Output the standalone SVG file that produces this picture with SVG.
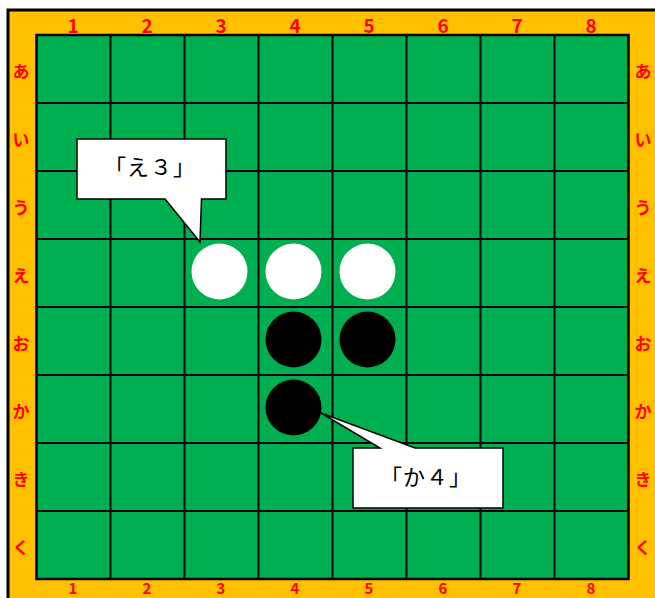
<svg xmlns="http://www.w3.org/2000/svg" width="655" height="598" viewBox="0 0 655 598">
<style>
.lbl{font-family:"Noto Sans CJK JP","DejaVu Sans",sans-serif;font-weight:bold;fill:#FF0000;text-anchor:middle;dominant-baseline:central}
.num{font-size:19px}
.bnum{font-size:15px}
.kana{font-size:17px}
.grid line{stroke:#000;stroke-width:2}
.call{fill:#fff;stroke:#000;stroke-width:1.5}
.ct{font-family:"Noto Sans CJK JP",serif;font-size:22px;fill:#000;text-anchor:middle;dominant-baseline:central}
</style>
<rect x="0" y="0" width="655" height="598" fill="#fff"/>
<g id="frame">
<rect x="8" y="10" width="660" height="600" fill="#FFC000" stroke="#000" stroke-width="3"/>
<rect x="36.5" y="35" width="592" height="544" fill="#00B050" stroke="#000" stroke-width="2.5"/>
</g>
<g id="grid" class="grid">
<line x1="110.5" y1="35" x2="110.5" y2="579"/>
<line x1="184.5" y1="35" x2="184.5" y2="579"/>
<line x1="258.5" y1="35" x2="258.5" y2="579"/>
<line x1="332.5" y1="35" x2="332.5" y2="579"/>
<line x1="406.5" y1="35" x2="406.5" y2="579"/>
<line x1="480.5" y1="35" x2="480.5" y2="579"/>
<line x1="554.5" y1="35" x2="554.5" y2="579"/>
<line x1="36.5" y1="103" x2="628.5" y2="103"/>
<line x1="36.5" y1="171" x2="628.5" y2="171"/>
<line x1="36.5" y1="239" x2="628.5" y2="239"/>
<line x1="36.5" y1="307" x2="628.5" y2="307"/>
<line x1="36.5" y1="375" x2="628.5" y2="375"/>
<line x1="36.5" y1="443" x2="628.5" y2="443"/>
<line x1="36.5" y1="511" x2="628.5" y2="511"/>
</g>
<g id="labels">
<text class="lbl num" x="73" y="24">1</text>
<text class="lbl num" x="147" y="24">2</text>
<text class="lbl num" x="221" y="24">3</text>
<text class="lbl num" x="295" y="24">4</text>
<text class="lbl num" x="369" y="24">5</text>
<text class="lbl num" x="443" y="24">6</text>
<text class="lbl num" x="517" y="24">7</text>
<text class="lbl num" x="591" y="24">8</text>
<text class="lbl bnum" x="73" y="587">1</text>
<text class="lbl bnum" x="147" y="587">2</text>
<text class="lbl bnum" x="221" y="587">3</text>
<text class="lbl bnum" x="295" y="587">4</text>
<text class="lbl bnum" x="369" y="587">5</text>
<text class="lbl bnum" x="443" y="587">6</text>
<text class="lbl bnum" x="517" y="587">7</text>
<text class="lbl bnum" x="591" y="587">8</text>
<text class="lbl kana" x="21" y="70">あ</text>
<text class="lbl kana" x="21" y="138">い</text>
<text class="lbl kana" x="21" y="206">う</text>
<text class="lbl kana" x="21" y="274">え</text>
<text class="lbl kana" x="21" y="342">お</text>
<text class="lbl kana" x="21" y="410">か</text>
<text class="lbl kana" x="21" y="478">き</text>
<text class="lbl kana" x="21" y="546">く</text>
<text class="lbl kana" x="643" y="70">あ</text>
<text class="lbl kana" x="643" y="138">い</text>
<text class="lbl kana" x="643" y="206">う</text>
<text class="lbl kana" x="643" y="274">え</text>
<text class="lbl kana" x="643" y="342">お</text>
<text class="lbl kana" x="643" y="410">か</text>
<text class="lbl kana" x="643" y="478">き</text>
<text class="lbl kana" x="643" y="546">く</text>
</g>
<g id="discs">
<circle id="w-e3" cx="219.5" cy="271.5" r="28" fill="#fff"/>
<circle id="w-e4" cx="293.5" cy="271.5" r="28" fill="#fff"/>
<circle id="w-e5" cx="367.5" cy="271.5" r="28" fill="#fff"/>
<circle id="b-o4" cx="293.5" cy="339.5" r="28" fill="#000"/>
<circle id="b-o5" cx="367.5" cy="339.5" r="28" fill="#000"/>
<circle id="b-ka4" cx="293.5" cy="407.5" r="28" fill="#000"/>
</g>
<g id="callout-e3">
<path class="call" d="M77,139 H226 V199 H201.5 L200,242 L165,199 H77 Z"/>
<text class="ct" x="150" y="165" letter-spacing="1">「え３」</text>
</g>
<g id="callout-ka4">
<path class="call" d="M353,448 H380 L321,413 L415,448 H503 V508 H353 Z"/>
<text class="ct" x="426" y="475" letter-spacing="1">「か４」</text>
</g>
</svg>
